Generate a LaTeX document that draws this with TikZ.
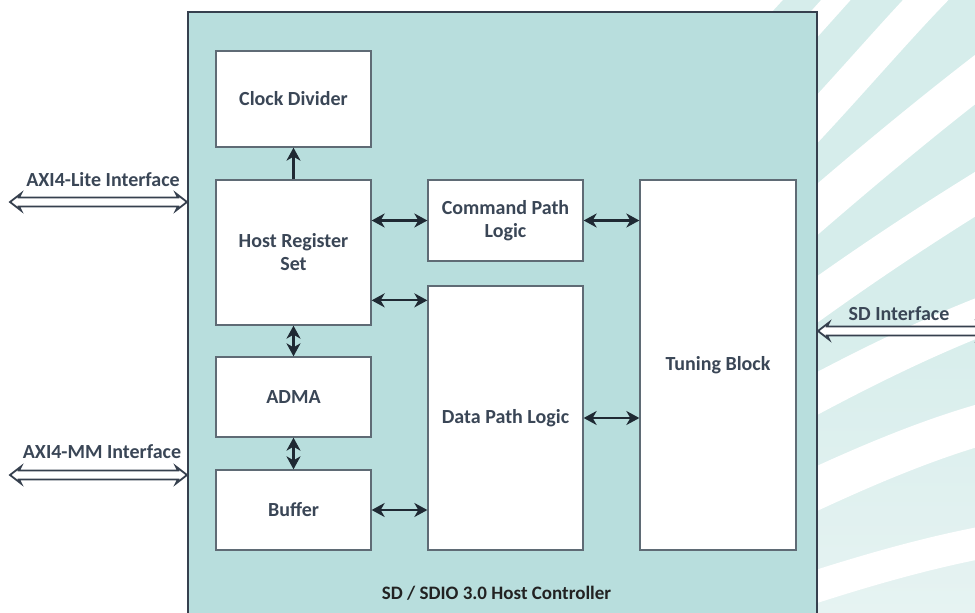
\documentclass[tikz,border=0pt]{standalone}
\usepackage{fontspec}
\setmainfont{Carlito}
\usetikzlibrary{arrows.meta,calc}
\definecolor{mainfill}{HTML}{B8DEDD}
\definecolor{stripe}{HTML}{D6EDEB}
\definecolor{stripelow}{HTML}{E6F3F2}
\definecolor{frame}{HTML}{36404E}
\definecolor{boxline}{HTML}{5F6B75}
\definecolor{txt}{HTML}{3A4656}
\definecolor{arr}{HTML}{1F2933}
\definecolor{titletxt}{HTML}{222222}
\newcommand\lblfont{\bfseries\fontsize{20}{23}\selectfont}
\newcommand\ttlfont{\bfseries\fontsize{19}{23}\selectfont}
\tikzset{
  blk/.style={draw=boxline, line width=1.3pt, fill=white, text=txt, font=\lblfont, align=center, inner sep=0pt},
  biarr/.style={draw=arr, line width=2.2pt, {Stealth[length=13pt,width=14pt,inset=4pt]}-{Stealth[length=13pt,width=14pt,inset=4pt]}},
  onearr/.style={draw=arr, line width=2.2pt, -{Stealth[length=13pt,width=14pt,inset=4pt]}},
  busshape/.style={draw=frame, line width=1.8pt, fill=white, line join=miter},
  iflbl/.style={text=txt, font=\lblfont, inner sep=0pt},
  band/.style={draw=white, line cap=butt}
}
\begin{document}
\begin{tikzpicture}[x=1pt,y=-1pt]
\useasboundingbox (0,0) rectangle (975,613);
% decorative background stripes
\begin{scope}
  \clip (783,0) -- (975,0) -- (975,613) -- (760,613) -- (760,25) -- cycle;
  \fill[stripe] (700,0) rectangle (975,300);
  \shade[top color=stripe, bottom color=stripelow] (700,300) rectangle (975,613);
  \draw[band, line width=22] (800,40) -- (852,-18);
  \draw[band, line width=33] (790,148) .. controls (850,85) and (900,25) .. (945,-20);
  \draw[band, line width=39] (790,233) .. controls (860,172) and (925,118) .. (990,68);
  \draw[band, line width=38] (790,319) .. controls (860,268) and (925,225) .. (990,185);
  \draw[band, line width=38] (790,408) .. controls (860,370) and (925,338) .. (990,313);
  \draw[band, line width=41] (790,501) .. controls (860,468) and (925,440) .. (990,422);
  \draw[band, line width=32] (790,595) .. controls (860,572) and (925,553) .. (990,541);
\end{scope}
% main controller frame
\node[draw=frame, line width=2pt, fill=mainfill, minimum width=629, minimum height=608, inner sep=0pt] (ctrl) at (502.5,316) {};
\node[text=titletxt, font=\ttlfont, inner sep=0pt] (title) at (496.5,593) {SD / SDIO 3.0 Host Controller};
% blocks
\node[blk, minimum width=155, minimum height=96] (clk) at (293.5,99) {Clock Divider};
\node[blk, minimum width=155, minimum height=145] (hrs) at (293.5,252.5) {Host Register\\Set};
\node[blk, minimum width=155, minimum height=80] (adma) at (293.5,397) {ADMA};
\node[blk, minimum width=155, minimum height=80] (buf) at (293.5,510) {Buffer};
\node[blk, minimum width=155, minimum height=81] (cmd) at (505.5,220.5) {Command Path\\Logic};
\node[blk, minimum width=155, minimum height=264] (dpl) at (505.5,418) {Data Path Logic};
\node[blk, minimum width=156, minimum height=370] (tun) at (718,365) {Tuning Block};
% internal connectors
\draw[onearr] (hrs.north) -- (clk.south);
\draw[biarr] (hrs.south) -- (adma.north);
\draw[biarr] (adma.south) -- (buf.north);
\draw[biarr] (cmd.west -| hrs.east) -- (cmd.west);
\coordinate (hd) at ([yshift=-15pt]dpl.north west);
\draw[biarr] (hd -| hrs.east) -- (hd);
\draw[biarr] (buf.east) -- (buf.east -| dpl.west);
\draw[biarr] (cmd.east) -- (cmd.east -| tun.west);
\draw[biarr] (dpl.east) -- (dpl.east -| tun.west);
% external interfaces (hollow double-headed bus arrows)
\coordinate (axl) at (10,202);
\coordinate (axlr) at (axl -| ctrl.west);
\draw[busshape] (axl) -- ++(11,-8.5) -- ++(-2,4) -- ($(axlr)+(-9,-4.5)$) -- ++(-2,-4) -- (axlr)
  -- ++(-11,8.5) -- ++(2,-4) -- ($(axl)+(9,4.5)$) -- ++(2,4) -- cycle;
\node[iflbl] (axll) at (103,180) {AXI4-Lite Interface};
\coordinate (axm) at (10,475);
\coordinate (axmr) at (axm -| ctrl.west);
\draw[busshape] (axm) -- ++(11,-8.5) -- ++(-2,4) -- ($(axmr)+(-9,-4.5)$) -- ++(-2,-4) -- (axmr)
  -- ++(-11,8.5) -- ++(2,-4) -- ($(axm)+(9,4.5)$) -- ++(2,4) -- cycle;
\node[iflbl] (axml) at (102,452) {AXI4-MM Interface};
\coordinate (sde) at (988,331);
\coordinate (sdl0) at (sde -| ctrl.east);
\draw[busshape] (sdl0) -- ++(11,-8.5) -- ++(-2,4) -- ($(sde)+(-9,-4.5)$) -- ++(-2,-4) -- (sde)
  -- ++(-11,8.5) -- ++(2,-4) -- ($(sdl0)+(9,4.5)$) -- ++(2,4) -- cycle;
\node[iflbl] (sdl) at (899,314) {SD Interface};
\end{tikzpicture}
\end{document}
